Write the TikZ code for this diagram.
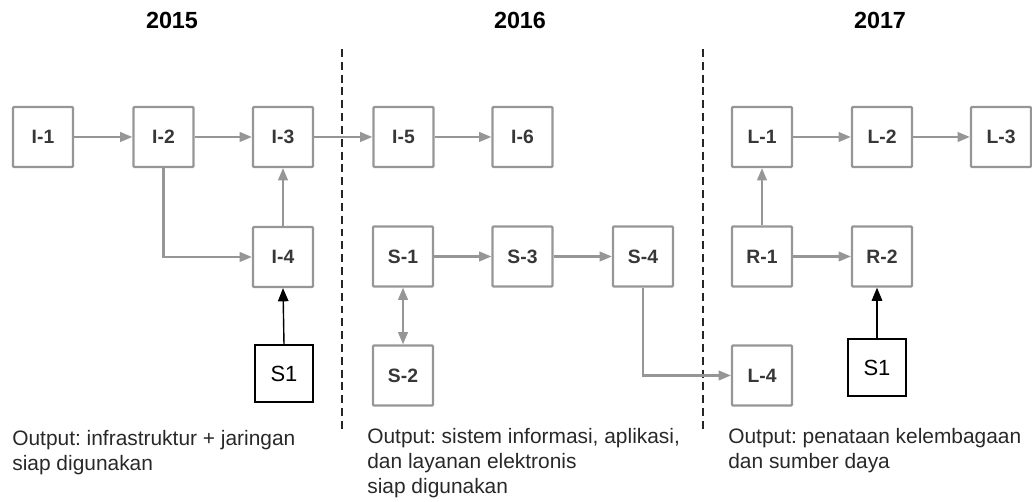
\documentclass[tikz,border=0pt]{standalone}
\usepackage{fontspec}
\setmainfont{Liberation Sans}
\usepackage{tikz}
\usetikzlibrary{positioning, calc, arrows.meta}
\frenchspacing
\definecolor{boxgray}{RGB}{150,150,150}
\definecolor{labgray}{RGB}{55,55,55}
\definecolor{outgray}{RGB}{40,40,40}
\newcommand{\yr}[1]{\fontsize{13.3pt}{15pt}\selectfont\bfseries #1}
\newcommand{\outtext}{\fontsize{11.9pt}{14.2pt}\selectfont}

\begin{document}
\begin{tikzpicture}[x=0.02cm, y=-0.02cm,
    act/.style={draw=boxgray, line width=1.3pt, rounded corners=0.6pt, minimum size=1.2cm, inner sep=0pt,
      text=labgray, font=\fontsize{11pt}{12pt}\selectfont\bfseries},
    src/.style={draw=black, line width=0.8pt, minimum width=1.16cm, minimum height=1.14cm, inner sep=0pt,
      font=\fontsize{12.5pt}{14pt}\selectfont},
    flow/.style={draw=boxgray, line width=1.2pt, -{Triangle[length=7pt,width=5.5pt]}},
    push/.style={draw=black, line width=0.8pt, -{Triangle[length=7.5pt,width=6pt]}},
    divider/.style={draw=black!85, line width=1.1pt, dash pattern=on 4.5pt off 2.8pt},
    note/.style={anchor=north west, align=left, inner sep=0pt, text=outgray, font=\outtext}]
      \useasboundingbox (0,0) rectangle (1032,502);

      % years
      \node (Y2015) at (172,20) {\yr{2015}};
      \node (Y2016) at (520,20) {\yr{2016}};
      \node (Y2017) at (880,20) {\yr{2017}};

      % dividers
      \coordinate (D1a) at (342,49);
      \coordinate (D1b) at (342,433);
      \coordinate (D2a) at (703,49);
      \coordinate (D2b) at (703,433);
      \draw[divider] (D1a) -- (D1b);
      \draw[divider] (D2a) -- (D2b);

      % 2015
      \node[act] (I1) at (43,137) {I-1};
      \node[act] (I2) at (163.5,137) {I-2};
      \node[act] (I3) at (283,137) {I-3};
      \node[act] (I4) at (283,257) {I-4};
      \node[src] (ST1) at (284,373.5) {S1};

      % 2016
      \node[act] (I5) at (403.5,137) {I-5};
      \node[act] (I6) at (522.5,137) {I-6};
      \node[act] (S1) at (403,256.5) {S-1};
      \node[act] (S3) at (522.5,256.5) {S-3};
      \node[act] (S4) at (643,256.5) {S-4};
      \node[act] (S2) at (403,375.5) {S-2};

      % 2017
      \node[act] (L1) at (762,137) {L-1};
      \node[act] (L2) at (882,137) {L-2};
      \node[act] (L3) at (1001,137) {L-3};
      \node[act] (R1) at (762,256.5) {R-1};
      \node[act] (R2) at (882,256.5) {R-2};
      \node[act] (L4) at (762,375.5) {L-4};
      \node[src] (ST2) at (877,367.5) {S1};

      \draw[flow] (node cs:name=I1) -- (node cs:name=I2);
      \draw[flow] (node cs:name=I2) -- (node cs:name=I3);
      \draw[flow] (node cs:name=I3) -- (node cs:name=I5);
      \draw[flow] (node cs:name=I5) -- (node cs:name=I6);
      \draw[flow] (node cs:name=I4) -- (node cs:name=I3);
      \draw[flow] (node cs:name=I2, anchor=south) |- (node cs:name=I4, anchor=west);
      \draw[flow] (node cs:name=S1) -- (node cs:name=S3);
      \draw[flow] (node cs:name=S3) -- (node cs:name=S4);
      \draw[flow, {Triangle[length=7pt,width=5.5pt]}-{Triangle[length=7pt,width=5.5pt]}] (node cs:name=S1) -- (node cs:name=S2);
      \draw[flow] (node cs:name=S4, anchor=south) |- (node cs:name=L4, anchor=west);
      \draw[flow] (node cs:name=L1) -- (node cs:name=L2);
      \draw[flow] (node cs:name=L2) -- (node cs:name=L3);
      \draw[flow] (node cs:name=R1) -- (node cs:name=L1);
      \draw[flow] (node cs:name=R1) -- (node cs:name=R2);
      \draw[push] (ST1.north) -- (I4.south);
      \draw[push] (ST2.north) -- (ST2.north |- R2.south);

      % outputs
      \node[note] (O2015) at (12,430) {Output: infrastruktur + jaringan\\siap digunakan};
      \node[note] (O2016) at (367,428) {Output: sistem informasi, aplikasi,\\dan layanan elektronis\\siap digunakan};
      \node[note] (O2017) at (728,428) {Output: penataan kelembagaan\\dan sumber daya};
    \end{tikzpicture}
\end{document}
